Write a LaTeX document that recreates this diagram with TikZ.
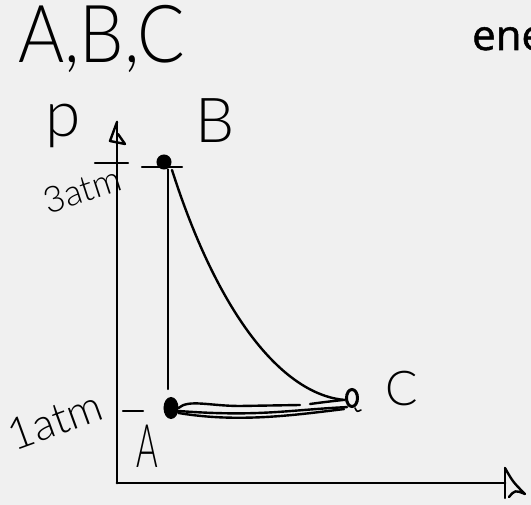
\documentclass[tikz,border=0pt]{standalone}
\usepackage{fontspec}
\usetikzlibrary{calc,shapes.geometric}
\IfFontExistsTF{Lato Light}{\newfontfamily\hand{Lato Light}}{\newfontfamily\hand{Fira Sans}}
\newfontfamily\ui{Open Sans}[FakeBold=1.2]
\definecolor{bgc}{HTML}{F0F0F0}
\definecolor{ink}{HTML}{000000}
\tikzset{
  pen/.style={draw=ink, line width=2.4pt, line cap=round, line join=round},
  axis/.style={draw=ink, line width=2.8pt, line cap=round, line join=round},
  hw/.style={inner sep=0pt, text=ink},
  dotfill/.style={ellipse, fill=ink, draw=ink, line width=1pt, inner sep=0pt},
  ring/.style={ellipse, draw=ink, line width=3pt, inner sep=0pt},
}
\begin{document}
\begin{tikzpicture}[x=1pt,y=-1pt]
\fill[bgc] (0,0) rectangle (531,505);
\useasboundingbox (0,0) rectangle (531,505);

% title texts
\node[hw, anchor=base west, xscale=0.88] (title) at (18,63) {\hand\fontsize{80}{80}\selectfont A,B,C};
\node[hw, anchor=base west] (ene) at (472,50) {\ui\fontsize{42}{42}\selectfont ene};

% axes
\coordinate (O) at (117,483);
\coordinate (ytop) at (117,122);
\coordinate (xend) at (505,483);
\draw[axis] (O) -- (ytop);
\draw[axis] (O) -- (xend);
\draw[pen] (118,134) -- (125,144) -- (110,141) -- (ytop);
\draw[pen] (505,468) -- (505,498);
\draw[pen] (505,468) .. controls (513,482) .. (525,494) .. controls (515,490) .. (509,497);

% axis labels
\node[hw] (plab) at (63,126) {\hand\fontsize{64}{64}\selectfont p};
\node[hw, rotate=18] (p3) at (82,190) {\hand\fontsize{36}{36}\selectfont 3atm};
\node[hw, rotate=20] (p1) at (55,420) {\hand\fontsize{44}{44}\selectfont 1atm};

% ticks
\draw[pen] (95,163) -- (128,163);
\draw[pen] (142,167) -- (182,167);
\draw[pen] (123,411) -- (143,411);

% state points
\node[dotfill, minimum width=14pt, minimum height=14pt] (B) at (164,162) {};
\node[dotfill, minimum width=14pt, minimum height=21pt] (A) at (171,408) {};
\node[ring, minimum width=11pt, minimum height=17pt] (C) at (352,398) {};
\draw[pen, line width=1.6pt] ($(C.south)+(3,0)$) .. controls +(2,4) .. +(6,2);

% point labels
\node[hw, anchor=base west] (Blab) at (195,143) {\hand\fontsize{62}{62}\selectfont B};
\node[hw, xscale=0.55] (Alab) at (147,446) {\hand\fontsize{60}{60}\selectfont A};
\node[hw] (Clab) at (402,389) {\hand\fontsize{48}{48}\selectfont C};

% processes
\draw[pen] ($(A.north)+(-3,-8)$) -- ($(B.south)+(4,0)$);
\draw[pen] ($(B)+(8,8)$) .. controls +(48,150) and +(-60,-5) .. ($(C.west)+(0,2)$);
\draw[pen] ($(A.east)+(0,3)$) .. controls +(80,6) and +(-60,3) .. ($(C.south west)+(0,2)$);
\draw[pen] ($(A.east)+(0,0)$) .. controls +(10,-9) and +(-30,0) .. (240,406) -- (300,405);
\draw[pen] ($(A.east)+(0,5)$) .. controls +(60,10) and +(-50,6) .. ($(C.south west)+(-3,4)$);
\draw[pen] (310,404) .. controls (325,402) .. ($(C.west)+(-2,2)$);
\end{tikzpicture}
\end{document}
